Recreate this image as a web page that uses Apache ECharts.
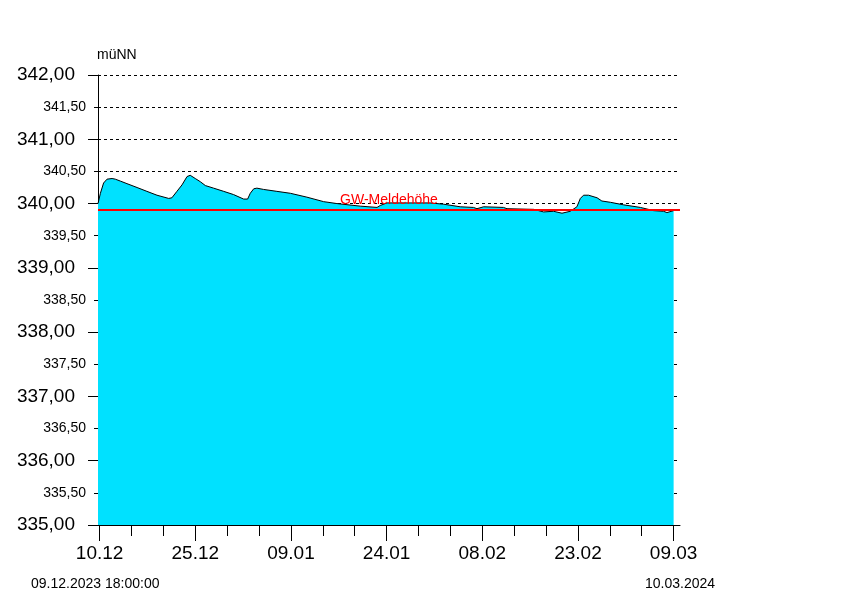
<!DOCTYPE html>
<html>
<head>
<meta charset="utf-8">
<script src="https://cdn.jsdelivr.net/npm/echarts@6/dist/echarts.min.js"></script>
<style>
html,body{margin:0;padding:0;background:#fff;}
#chart{width:854px;height:600px;}
</style>
</head>
<body>
<div id="chart"></div>
<script>
// Measurement times (UTC) and groundwater levels (m ü. NN)
var dates = [
'2023-12-09 18:00','2023-12-10 03:00','2023-12-10 15:00','2023-12-11 04:00','2023-12-11 23:00',
'2023-12-12 11:00','2023-12-13 06:00','2023-12-14 07:00','2023-12-15 21:00','2023-12-17 10:00',
'2023-12-19 00:00','2023-12-20 20:00','2023-12-21 08:00','2023-12-22 03:00','2023-12-22 22:00',
'2023-12-23 17:00','2023-12-24 05:00','2023-12-25 00:00','2023-12-25 19:00','2023-12-26 14:00',
'2023-12-27 21:00','2023-12-29 11:00','2023-12-31 00:00','2024-01-01 14:00','2024-01-02 05:00',
'2024-01-02 15:00','2024-01-03 04:00','2024-01-03 16:00','2024-01-04 17:00','2024-01-06 19:00',
'2024-01-08 22:00','2024-01-11 12:00','2024-01-14 03:00','2024-01-16 05:00','2024-01-19 21:00',
'2024-01-22 12:00','2024-01-23 00:00','2024-01-24 01:00','2024-01-30 19:00','2024-02-01 23:00',
'2024-02-04 13:00','2024-02-06 15:00','2024-02-07 04:00','2024-02-08 05:00','2024-02-11 08:00',
'2024-02-11 21:00','2024-02-16 01:00','2024-02-17 15:00','2024-02-19 04:00','2024-02-20 12:00',
'2024-02-21 19:00','2024-02-22 20:00','2024-02-23 09:00','2024-02-23 21:00','2024-02-24 16:00',
'2024-02-26 00:00','2024-02-26 18:00','2024-02-28 02:00','2024-03-01 04:00','2024-03-03 19:00',
'2024-03-05 21:00','2024-03-07 10:00','2024-03-07 23:00','2024-03-09 00:00'
];
var levels = [
340.00,340.16,340.32,340.38,340.39,
340.38,340.35,340.31,340.25,340.19,
340.13,340.08,340.09,340.19,340.29,
340.42,340.44,340.39,340.34,340.28,
340.24,340.19,340.14,340.07,340.07,
340.16,340.23,340.24,340.22,340.19,
340.16,340.10,340.03,340.00,339.96,
339.94,339.97,340.01,340.01,339.99,
339.95,339.94,339.92,339.95,339.94,
339.92,339.91,339.87,339.88,339.85,
339.88,339.95,340.08,340.13,340.13,
340.09,340.04,340.02,339.98,339.94,
339.89,339.88,339.86,339.89
];
var alarmLevel = 339.90;
var alarmLabel = 'GW-Meldehöhe';
var unitLabel = 'müNN';
var startLabel = '09.12.2023 18:00:00';
var endLabel = '10.03.2024';
var axisStart = '2023-12-09 18:00';
var axisEnd = '2024-03-10 00:00';
var majorTickDates = ['2023-12-10','2023-12-25','2024-01-09','2024-01-24','2024-02-08','2024-02-23','2024-03-09'];
var minorTickDates = ['2023-12-10','2023-12-15','2023-12-20','2023-12-25','2023-12-30','2024-01-04','2024-01-09',
 '2024-01-14','2024-01-19','2024-01-24','2024-01-29','2024-02-03','2024-02-08','2024-02-13','2024-02-18',
 '2024-02-23','2024-02-28','2024-03-04','2024-03-09'];
var yMin = 335, yMax = 342, yStep = 0.5;
var yMajor = [335,336,337,338,339,340,341,342];

function toMs(s){
  var p = s.split(/[- :]/);
  return Date.UTC(+p[0], +p[1]-1, +p[2], +(p[3]||0), +(p[4]||0));
}
function fmtDay(ms){
  var d = new Date(ms);
  var dd = ('0'+d.getUTCDate()).slice(-2), mm = ('0'+(d.getUTCMonth()+1)).slice(-2);
  return dd + '.' + mm;
}
var seriesData = dates.map(function(d,i){ return [toMs(d), levels[i]]; });
var FONT = '"Liberation Sans", Arial, sans-serif';

var chart = echarts.init(document.getElementById('chart'), null, {renderer:'canvas'});
chart.setOption({
  animation:false,
  backgroundColor:'#ffffff',
  textStyle:{fontFamily:FONT},
  grid:{left:98, right:174, top:75, bottom:75, containLabel:false},
  xAxis:[{
    type:'value', min:toMs(axisStart), max:toMs(axisEnd),
    axisLine:{show:true, lineStyle:{color:'#000', width:1}},
    axisTick:{show:true, length:16, lineStyle:{color:'#000'}, customValues: majorTickDates.map(toMs)},
    axisLabel:{show:true, color:'#000', fontSize:19, fontFamily:FONT, margin:19,
      customValues: majorTickDates.map(toMs), formatter:function(v){ return fmtDay(v); }},
    splitLine:{show:false}
  },{
    type:'value', min:toMs(axisStart), max:toMs(axisEnd), position:'bottom',
    axisLine:{show:false},
    axisTick:{show:true, length:11, lineStyle:{color:'#000'}, customValues: minorTickDates.map(toMs)},
    axisLabel:{show:false},
    splitLine:{show:false}
  }],
  yAxis:[{
    type:'value', min:yMin, max:yMax, interval:yStep,
    axisLine:{show:true, lineStyle:{color:'#000', width:1}},
    axisTick:{show:true, length:4, lineStyle:{color:'#000'}},
    axisLabel:{show:true, margin:12, color:'#000', fontFamily:FONT,
      formatter:function(v){
        var t = v.toFixed(2).replace('.', ',');
        return (Math.abs(v - Math.round(v)) < 1e-6) ? '{b|' + t + '}' : '{s|' + t + '}';
      },
      rich:{
        b:{fontSize:19, color:'#000', fontFamily:FONT, padding:[0,11,0,0]},
        s:{fontSize:14, color:'#000', fontFamily:FONT}
      }
    },
    splitLine:{show:true, lineStyle:{color:'#000', width:1, type:[3,3]}}
  },{
    type:'value', min:yMin, max:yMax, position:'left',
    axisLine:{show:false},
    axisTick:{show:true, length:10, lineStyle:{color:'#000'}, customValues: yMajor},
    axisLabel:{show:false},
    splitLine:{show:false}
  }],
  graphic:[
    {type:'text', left:97, top:48, style:{text:unitLabel, font:'14px ' + FONT, fill:'#000'}},
    {type:'text', left:31, top:577, style:{text:startLabel, font:'14px ' + FONT, fill:'#000'}},
    {type:'text', left:645, top:577, style:{text:endLabel, font:'14px ' + FONT, fill:'#000'}}
  ],
  series:[{
    type:'line', xAxisIndex:0, yAxisIndex:0,
    data: seriesData,
    showSymbol:false, symbol:'none', smooth:false,
    lineStyle:{color:'#000', width:1},
    areaStyle:{color:'#00e1ff', opacity:1},
    markLine:{
      silent:true, symbol:['none','none'],
      lineStyle:{color:'#ff0000', width:2, type:'solid'},
      label:{show:true, position:'insideMiddleTop', formatter:alarmLabel, color:'#ff0000', fontSize:14, fontFamily:FONT, distance:3},
      data:[{yAxis:alarmLevel}]
    }
  }]
});
</script>
</body>
</html>
